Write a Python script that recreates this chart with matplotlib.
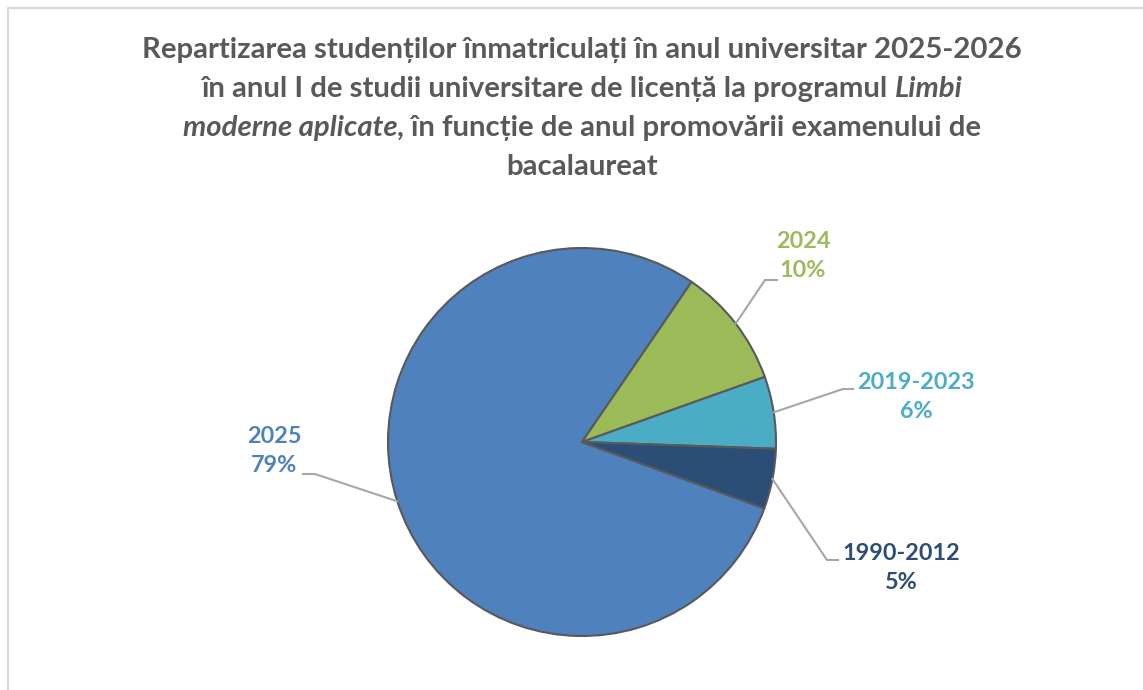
import matplotlib
matplotlib.use("Agg")
import matplotlib.pyplot as plt
import numpy as np

# Data
categories = ["2025", "2024", "2019-2023", "1990-2012"]
percent = [79, 10, 6, 5]
colors = ["#4F81BD", "#9BBB59", "#4BACC6", "#2C4D75"]
label_colors = ["#4F81BD", "#9BBB59", "#4BACC6", "#2C4D75"]

title_lines = [
    [("Repartizarea studenților înmatriculați în anul universitar 2025-2026", "normal")],
    [("în anul I de studii universitare de licență la programul", "normal"), ("Limbi", "italic")],
    [("moderne aplicate", "italic"), (", în funcție de anul promovării examenului de", "normal")],
    [("bacalaureat", "normal")],
]

W, H = 1143, 690
FONT = ["Lato", "DejaVu Sans"]
TITLE_COLOR = "#595959"
TITLE_SIZE = 21.2


def Y(py):
    return H - py


fig = plt.figure(figsize=(W / 100, H / 100), dpi=100)
ax = fig.add_axes([0, 0, 1, 1])

# chart area border (only top/left visible)
ax.plot([8, 8, W], [0, Y(8), Y(8)], color="#D9D9D9", lw=1.5, solid_capstyle="butt")

# pie
cx, cy, r = 582, Y(442), 194
wedges, _ = ax.pie(
    percent,
    colors=colors,
    startangle=-20,
    counterclock=False,
    center=(cx, cy),
    radius=r,
    wedgeprops=dict(edgecolor="#595959", linewidth=1.5),
    frame=True,
)
ax.set_xlim(0, W)
ax.set_ylim(0, H)
ax.set_aspect("equal")
ax.axis("off")

# labels: text centre, elbow point, end of horizontal part (pixels from top-left)
label_pos = [(274, 451), (803, 256), (916, 397), (901, 568)]
elbows = [((315, 474), (303, 474)), ((765, 280), (777, 280)),
          ((843, 389), (853, 389)), ((827, 560), (838, 560))]

for i, w in enumerate(wedges):
    mid = np.deg2rad((w.theta1 + w.theta2) / 2)
    sx, sy = cx + r * np.cos(mid), cy + r * np.sin(mid)
    (ex, ey), (hx, hy) = elbows[i]
    ax.plot([sx, ex, hx], [sy, Y(ey), Y(hy)], color="#A6A6A6", lw=1.5, zorder=3)
    lx, ly = label_pos[i]
    ax.text(lx, Y(ly), f"{categories[i]}\n{percent[i]}%", ha="center", va="center",
            color=label_colors[i], fontsize=16.8, fontweight="bold", family=FONT,
            linespacing=1.45)

# title, built from pieces so part of it can be italic
renderer = fig.canvas.get_renderer()


def text_width(s, style):
    t = ax.text(0, 0, s, fontsize=TITLE_SIZE, fontweight="bold", style=style, family=FONT)
    wpx = t.get_window_extent(renderer).width
    t.remove()
    return wpx


space = text_width("a a", "normal") - text_width("aa", "normal")
baselines = [58, 97, 136, 175]
for line, base in zip(title_lines, baselines):
    widths = [text_width(s, st) for s, st in line]
    gaps = []
    for j in range(1, len(line)):
        gaps.append(0 if line[j][0].startswith(",") else space)
    total = sum(widths) + sum(gaps)
    x = cx - total / 2
    for j, ((s, st), wd) in enumerate(zip(line, widths)):
        ax.text(x, Y(base), s, fontsize=TITLE_SIZE, fontweight="bold", style=st,
                family=FONT, color=TITLE_COLOR, ha="left", va="baseline")
        x += wd + (gaps[j] if j < len(gaps) else 0)

fig.savefig("out.png", dpi=100)
